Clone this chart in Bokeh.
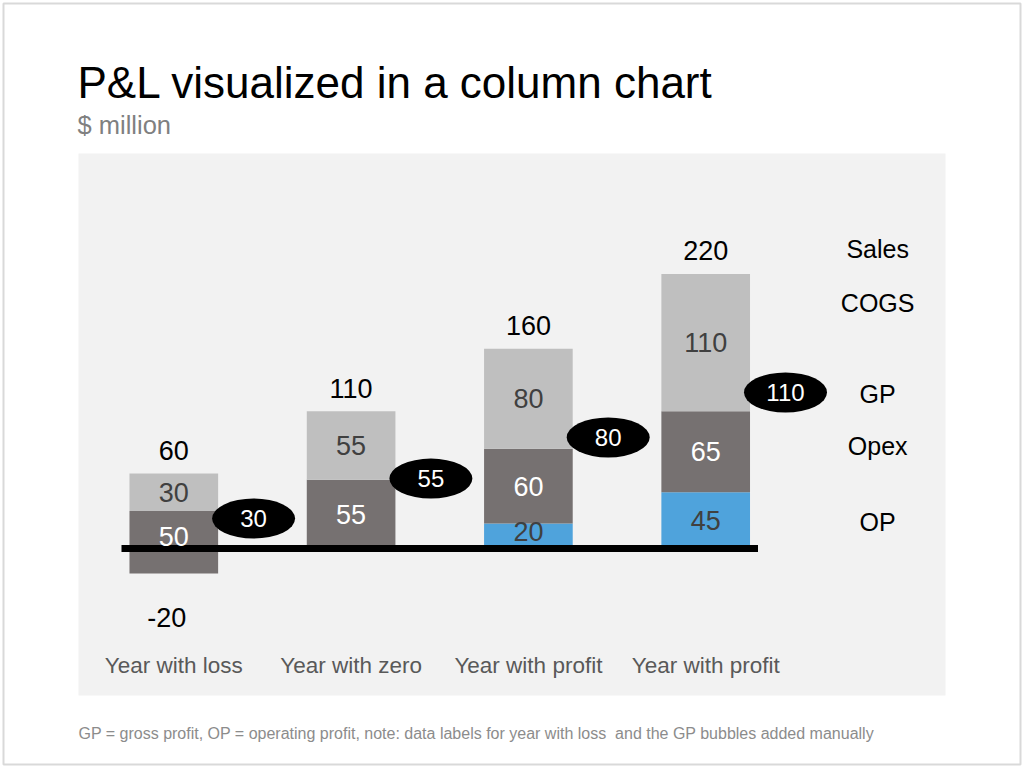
from bokeh.plotting import figure
from bokeh.models import Range1d, ColumnDataSource
from bokeh.core.properties import value
from bokeh.embed import file_html
from bokeh.resources import INLINE

# ---------------- data ($ million) ----------------
categories = ["Year with loss", "Year with zero", "Year with profit", "Year with profit"]
sales = [60, 110, 160, 220]
cogs = [30, 55, 80, 110]
gp = [30, 55, 80, 110]
opex = [50, 55, 60, 65]
op = [-20, 0, 20, 45]
row_names = ["Sales", "COGS", "GP", "Opex", "OP"]

# ---------------- texts ----------------
title_text = "P&L visualized in a column chart"
subtitle_text = "$ million"
footnote_text = ("GP = gross profit, OP = operating profit, note: data labels for year with loss\u00a0 "
                 "and the GP bubbles added manually")

# ---------------- manual placements (value units) ----------------
bubble_nudge = [-6, 1, 9, 15]          # GP bubbles were placed by hand
row_label_y = [240, 197, 124, 82, 21]  # row captions on the right

# ---------------- layout ----------------
W, H = 1024, 767
BL, BT, BR, BB = 3, 3, 4, 3
X1_PX, DX_PX = 173.3, 177.3     # pixel of category 1, pixels per category
Y0_PX, DY_PX = 548.0, 1.248     # pixel of value 0, pixels per $ million


def xv(px):
    return 1 + (px - X1_PX) / DX_PX


def yv(px):
    return (Y0_PX - px) / DY_PX


FONT = value("Liberation Sans")
C_COGS = "#bfbfbf"
C_OPEX = "#767171"
C_OP = "#4fa3dc"
C_PANEL = "#f2f2f2"

p = figure(width=W, height=H,
           x_range=Range1d(xv(BL), xv(W - BR)),
           y_range=Range1d(yv(H - BB), yv(BT)),
           output_backend="svg", toolbar_location=None,
           x_axis_location=None, y_axis_location=None,
           min_border_left=BL, min_border_right=BR,
           min_border_top=BT, min_border_bottom=BB,
           background_fill_color="white", border_fill_color="white",
           outline_line_color="#d9d9d9", outline_line_width=2)
p.grid.visible = False

# grey panel
p.quad(left=[xv(78)], right=[xv(945)], top=[yv(153)], bottom=[yv(695)],
       fill_color=C_PANEL, line_color=None)

xs = [i + 1 for i in range(len(categories))]
bar_w = 0.5

src = ColumnDataSource(dict(
    x=xs, sales=sales, cogs=cogs, gp=gp, opex=opex, op=op,
    op_top=[max(v, 0) for v in op],
))

# stacked segments: OP (0..op), Opex (op..gp), COGS (gp..sales)
p.vbar(x="x", width=bar_w, bottom=0, top="op_top", source=src,
       fill_color=C_OP, line_color=None)
p.vbar(x="x", width=bar_w, bottom="op", top="gp", source=src,
       fill_color=C_OPEX, line_color=None)
p.vbar(x="x", width=bar_w, bottom="gp", top="sales", source=src,
       fill_color=C_COGS, line_color=None)

# zero line
p.segment(x0=[xs[0] - bar_w / 2 - 0.045], x1=[xs[-1] + bar_w / 2 + 0.045],
          y0=[0], y1=[0], line_color="black", line_width=7)

num_size = "27px"

# COGS labels
p.text(x=xs, y=[(g + s) / 2 for g, s in zip(gp, sales)],
       text=[str(v) for v in cogs], text_font=FONT, text_font_size=num_size,
       text_color="#404040", text_align="center", text_baseline="middle")
# Opex labels
p.text(x=xs, y=[(o + g) / 2 for o, g in zip(op, gp)],
       text=[str(v) for v in opex], text_font=FONT, text_font_size=num_size,
       text_color="white", text_align="center", text_baseline="middle",
       y_offset=[-6 if o < 0 else 0 for o in op])
# OP labels (positive)
pos = [i for i, v in enumerate(op) if v > 0]
p.text(x=[xs[i] for i in pos], y=[op[i] / 2 for i in pos],
       text=[str(op[i]) for i in pos], text_font=FONT, text_font_size=num_size,
       text_color="#404040", text_align="center", text_baseline="middle",
       y_offset=[-5 if op[i] < 30 else 0 for i in pos])
# OP labels (negative, below the bar)
neg = [i for i, v in enumerate(op) if v < 0]
p.text(x=[xs[i] - 0.04 for i in neg], y=[op[i] for i in neg],
       text=[str(op[i]) for i in neg], text_font=FONT, text_font_size=num_size,
       text_color="black", text_align="center", text_baseline="middle",
       y_offset=44)
# Sales totals
p.text(x=xs, y=sales, text=[str(v) for v in sales], text_font=FONT,
       text_font_size=num_size, text_color="black", text_align="center",
       text_baseline="middle", y_offset=-23)

# GP bubbles
bx = [x + 0.45 for x in xs]
by = [g + n for g, n in zip(gp, bubble_nudge)]
p.ellipse(x=bx, y=by, width=83 / DX_PX, height=40 / DY_PX,
          fill_color="black", line_color=None)
p.text(x=bx, y=by, text=[str(v) for v in gp], text_font=FONT,
       text_font_size="24px", text_color="white", text_align="center",
       text_baseline="middle")

# row captions
p.text(x=[xs[-1] + 0.97] * len(row_names), y=row_label_y, text=row_names,
       text_font=FONT, text_font_size="25px", text_color="black",
       text_align="center", text_baseline="middle")

# category labels
p.text(x=xs, y=[yv(664.5)] * len(xs), text=categories, text_font=FONT,
       text_font_size="22.5px", text_color="#595959", text_align="center",
       text_baseline="middle")

# title, subtitle, footnote
p.text(x=[xv(77)], y=[yv(82)], text=[title_text], text_font=FONT,
       text_font_size="44px", text_color="black", text_align="left",
       text_baseline="middle")
p.text(x=[xv(77)], y=[yv(124.5)], text=[subtitle_text], text_font=FONT,
       text_font_size="25.5px", text_color="#808080", text_align="left",
       text_baseline="middle")
p.text(x=[xv(78)], y=[yv(733)], text=[footnote_text], text_font=FONT,
       text_font_size="16px", text_color="#8c8c8c", text_align="left",
       text_baseline="middle")

open("out.html", "w").write(file_html(p, INLINE))
